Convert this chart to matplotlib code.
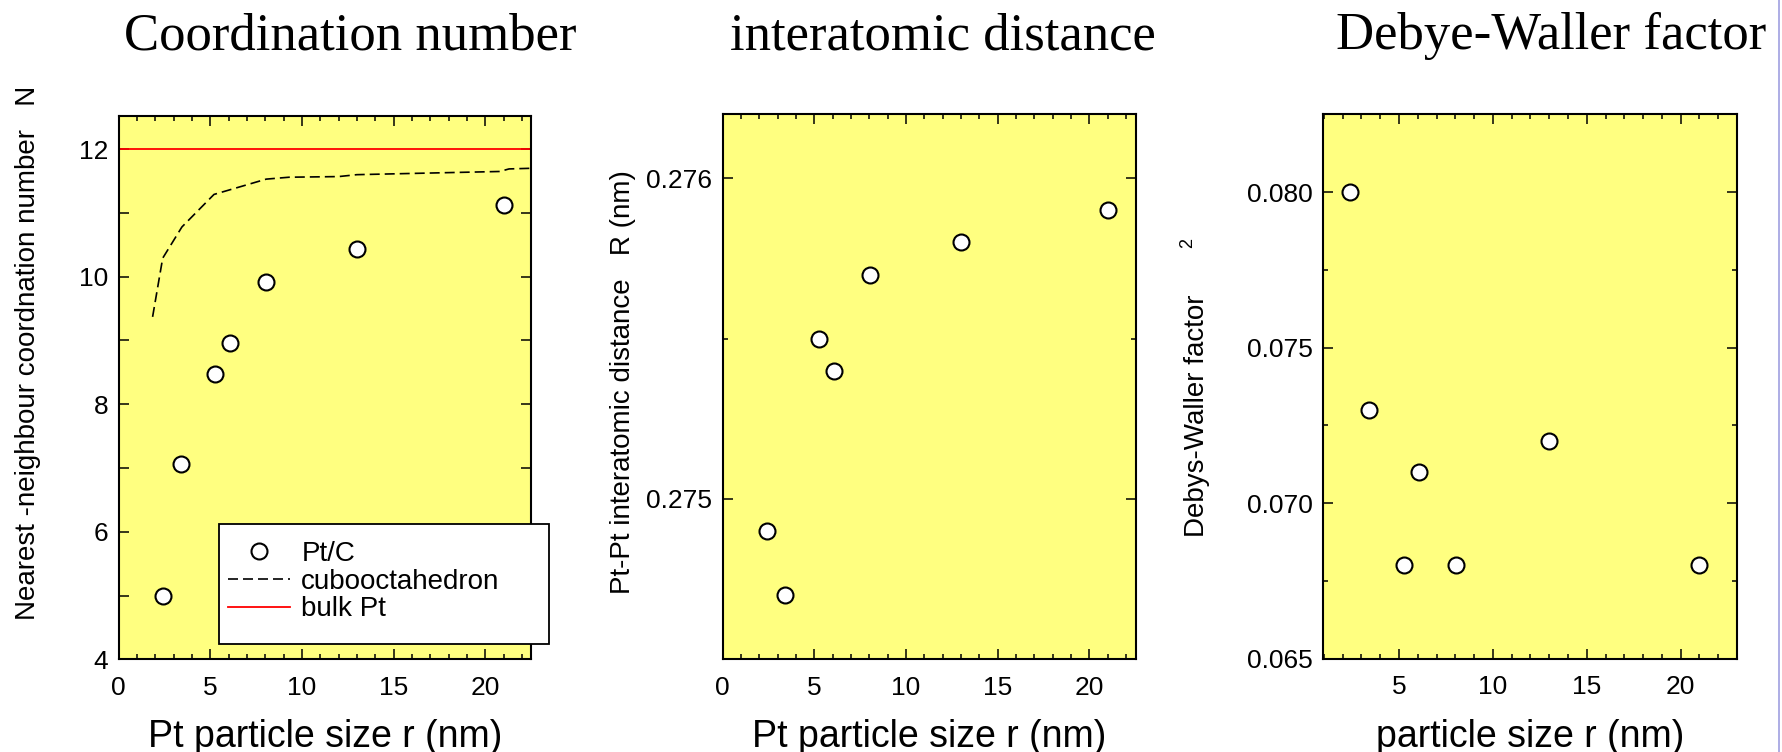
import matplotlib
matplotlib.use('Agg')
import matplotlib.pyplot as plt
from matplotlib.ticker import MultipleLocator
from matplotlib.patches import Rectangle
from matplotlib.lines import Line2D

plt.rcParams['font.family'] = ['Liberation Sans', 'DejaVu Sans']

# EXAFS results for Pt/C catalysts vs. particle size
size_nm = [2.4, 3.4, 5.25, 6.05, 8.05, 13.0, 21.0]
coord_number = [5.0, 7.07, 8.48, 8.96, 9.92, 10.44, 11.12]
pt_pt_distance = [0.2749, 0.2747, 0.2755, 0.2754, 0.2757, 0.2758, 0.2759]
debye_waller = [0.080, 0.073, 0.068, 0.071, 0.068, 0.072, 0.068]

# model curve for cuboctahedral clusters and the bulk value
cubo_size = [1.85, 2.4, 3.45, 5.2, 8.05, 9.3, 12.0, 13.0, 20.8, 21.3, 22.5]
cubo_number = [9.37, 10.29, 10.78, 11.29, 11.53, 11.56, 11.57, 11.60, 11.65, 11.69, 11.70]
bulk_number = 12

W, H = 1782, 752
fig = plt.figure(figsize=(W / 100, H / 100), dpi=100)
YELLOW = '#ffff80'


def box(left, top, right, bottom):
    # pixel box (measured from the top-left corner) -> figure fraction rect
    return [left / W, (H - bottom) / H, (right - left) / W, (bottom - top) / H]


def style_axes(ax, xmajor, xminor, ymajor, yminor, yminor_len=3.6):
    ax.set_facecolor(YELLOW)
    for sp in ax.spines.values():
        sp.set_linewidth(1.5)
    ax.xaxis.set_major_locator(MultipleLocator(xmajor))
    ax.xaxis.set_minor_locator(MultipleLocator(xminor))
    ax.yaxis.set_major_locator(MultipleLocator(ymajor))
    ax.yaxis.set_minor_locator(MultipleLocator(yminor))
    ax.tick_params(which='both', direction='in', top=True, right=True, width=1.1)
    ax.tick_params(which='major', length=7.2, labelsize=19)
    ax.tick_params(axis='x', which='minor', length=3.6)
    ax.tick_params(axis='y', which='minor', length=yminor_len)
    ax.tick_params(axis='x', pad=12)
    ax.tick_params(axis='y', pad=7.5)


marker_kw = dict(linestyle='none', marker='o', markersize=11.5, markerfacecolor='white',
                 markeredgecolor='black', markeredgewidth=1.5, zorder=3)

# --- coordination number ---
ax1 = fig.add_axes(box(118.7, 116, 531, 659.3))
style_axes(ax1, 5, 1, 2, 1, yminor_len=7.2)
ax1.plot(size_nm, coord_number, label='Pt/C', **marker_kw)
ax1.plot(cubo_size, cubo_number, color='black', lw=1.2, dashes=(6, 3), label='cubooctahedron')
ax1.axhline(bulk_number, color='red', lw=1.3, label='bulk Pt')
ax1.set_xlim(0, 22.5)
ax1.set_ylim(4, 12.52)

# legend frame extends past the right spine
frame = Rectangle((219.3 / W, (H - 644) / H), 330 / W, 120 / H, transform=fig.transFigure,
                  facecolor='white', edgecolor='black', lw=1.3, clip_on=False, zorder=4.5)
ax1.add_patch(frame)
leg = ax1.legend(loc='upper left', bbox_to_anchor=(228.3 / W, (H - 541) / H),
                 bbox_transform=fig.transFigure, frameon=False, fontsize=20,
                 borderpad=0, borderaxespad=0, handlelength=2.23, handletextpad=0.4,
                 labelspacing=0.06)
leg.set_zorder(5)

# --- interatomic distance ---
ax2 = fig.add_axes(box(722.7, 114.3, 1136, 659))
style_axes(ax2, 5, 1, 0.001, 0.0005)
ax2.plot(size_nm, pt_pt_distance, **marker_kw)
ax2.set_xlim(0, 22.55)
ax2.set_ylim(0.2745, 0.2762)
ax2.yaxis.set_major_formatter(plt.FuncFormatter(lambda v, p: f'{v:.3f}'))

# --- Debye-Waller factor ---
ax3 = fig.add_axes(box(1323, 114.3, 1737, 658.7))
style_axes(ax3, 5, 1, 0.005, 0.0025)
ax3.plot(size_nm, debye_waller, **marker_kw)
ax3.set_xlim(0.95, 23)
ax3.set_ylim(0.065, 0.0825)
ax3.yaxis.set_major_formatter(plt.FuncFormatter(lambda v, p: f'{v:.3f}'))

# titles
title_kw = dict(fontsize=38, family='Liberation Serif', ha='center', va='baseline')
fig.text(350 / W, (H - 49) / H, 'Coordination number', **title_kw)
fig.text(943 / W, (H - 49) / H, 'interatomic distance', **title_kw)
fig.text(1551 / W, (H - 49) / H, 'Debye-Waller factor', **title_kw)

# x labels
xl_kw = dict(fontsize=27, ha='center', va='baseline')
fig.text(325 / W, (H - 747) / H, 'Pt particle size r (nm)', **xl_kw)
fig.text(929 / W, (H - 747) / H, 'Pt particle size r (nm)', **xl_kw)
fig.text(1530 / W, (H - 747) / H, 'particle size r (nm)', **xl_kw)

# y labels
yl_kw = dict(fontsize=20, rotation=90, ha='center', va='center')
fig.text(28 / W, (H - 353) / H, 'Nearest -neighbour coordnation number   N', **yl_kw)
fig.text(623 / W, (H - 382) / H, 'Pt-Pt interatomic distance   R (nm)', **yl_kw)
fig.text(1197 / W, (H - 416) / H, 'Debys-Waller factor', **yl_kw)
fig.text(1188 / W, (H - 243) / H, '2', fontsize=13, rotation=90, ha='center', va='center')

# thin border line at the right edge
fig.add_artist(Line2D([0.9985, 0.9985], [0, 1], transform=fig.transFigure, color='#a0a0e0', lw=1.2))

fig.savefig('out.png', dpi=100)
